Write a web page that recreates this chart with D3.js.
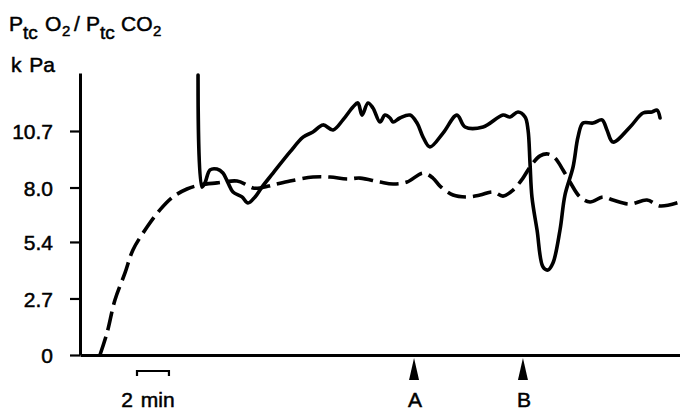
<!DOCTYPE html>
<html><head><meta charset="utf-8">
<script src="https://cdn.jsdelivr.net/npm/d3@7"></script>
<style>body{margin:0;background:#fff}svg{display:block}text{font-family:"Liberation Sans",Arial,sans-serif;fill:#000;stroke:#000;stroke-width:0.5px}</style>
</head><body>
<svg id="c" width="680" height="410"></svg>
<script>
// time in minutes, values in kPa
const tickValues = [0, 2.7, 5.4, 8.0, 10.7];
const tickLabels = ["0", "2.7", "5.4", "8.0", "10.7"];
const co2Time = [1.33,1.8,2.33,3.0,3.53,4.47,5.33,6.2,7.13,8.0,9.13,10.47,11.13,11.53,12.0,12.87,14.0,15.53,16.67,17.8,18.67,20.0,20.87,21.8,22.87,23.53,24.0,24.87,25.8,26.67,27.53,28.2,28.87,29.53,30.0,30.67,31.2,31.67,32.2,32.67,33.33,34.0,34.87,35.53,36.67,37.8,38.67,40.0];
const co2Value = [0,1.05,2.63,3.92,5.02,6.11,6.93,7.55,7.93,8.12,8.22,8.31,8.12,7.98,7.98,8.12,8.31,8.50,8.50,8.41,8.45,8.26,8.17,8.26,8.69,8.45,8.07,7.64,7.55,7.64,7.79,7.59,7.88,8.45,8.98,9.51,9.60,9.41,8.84,8.26,7.55,7.31,7.55,7.40,7.21,7.40,7.12,7.31];
const o2Time = [7.87,8.13,8.33,8.67,9.13,9.53,9.87,10.2,10.8,11.2,11.67,12.13,12.87,14.0,14.87,15.53,16.2,16.87,17.53,18.2,18.53,18.8,19.2,19.53,20.0,20.33,20.67,20.87,21.33,22.0,22.47,22.87,23.33,24.2,25.13,25.67,26.87,28.2,28.67,29.2,29.67,29.87,30.0,30.13,30.47,30.87,31.2,31.53,32.0,32.33,32.87,33.2,33.53,34.2,34.8,35.13,35.53,36.67,37.53,38.13,38.47,38.67];
const o2Value = [13.37,8.02,8.22,8.84,8.88,8.69,8.22,7.79,7.55,7.26,7.55,8.02,8.69,9.70,10.41,10.65,10.99,10.75,11.23,11.85,12.04,11.46,12.04,11.80,11.13,11.46,11.32,11.13,11.32,11.46,11.08,10.41,9.94,10.60,11.46,10.89,10.89,11.46,11.37,11.61,11.37,10.75,9.17,7.55,5.97,4.20,4.06,4.39,5.97,7.64,8.98,10.41,11.08,11.08,11.23,10.75,10.17,10.89,11.56,11.61,11.70,11.32];
const eventLabels = ["A", "B"];
const eventTimes = [22.27, 29.53];
const scaleBarTimes = [3.8, 5.93];
const scaleBarLabel = "2 min";

const svg = d3.select("#c");
const x = d3.scaleLinear().domain([0, 40]).range([80, 680]);
const y = d3.scaleLinear().domain([0, 13.47]).range([355, 73]);

// title (each part positioned separately)
const t = svg.append("text").attr("y", 31).attr("font-size", 21);
const parts = [["P", 9, 0, 21], ["tc", 23, 8, 19], ["O", 45, 0, 21], ["2", 62, 5, 15], ["/", 74, 0, 21],
               ["P", 86, 0, 21], ["tc", 100, 8, 19], ["CO", 121, 0, 21], ["2", 153, 5, 15]];
parts.forEach(p => t.append("tspan").attr("x", p[1]).attr("y", 31 + p[2]).attr("font-size", p[3]).text(p[0]));
svg.append("text").attr("x", 11).attr("y", 72).attr("font-size", 21).attr("word-spacing", 2).text("k Pa");

// axes
const ya = svg.append("g").attr("transform", "translate(80,0)")
  .call(d3.axisLeft(y).tickValues(tickValues).tickFormat((d, i) => tickLabels[i]).tickSize(10).tickSizeOuter(0).tickPadding(17));
ya.select(".domain").attr("stroke-width", 3);
ya.selectAll(".tick line").attr("stroke-width", 2.2);
ya.selectAll(".tick text").attr("font-size", 21).attr("font-family", "Liberation Sans, Arial, sans-serif").attr("fill", "#000").attr("dy", "0.36em");
const xa = svg.append("g").attr("transform", "translate(0,355)")
  .call(d3.axisBottom(x).tickValues([]).tickSizeOuter(0));
xa.select(".domain").attr("stroke-width", 3);

// lines
const line = d3.line().x(d => x(d[0])).y(d => y(d[1])).curve(d3.curveCatmullRom.alpha(0.5));
svg.append("path").datum(co2Time.map((d, i) => [d, co2Value[i]]))
  .attr("d", line).attr("fill", "none").attr("stroke", "#000").attr("stroke-width", 3.6)
  .attr("stroke-dasharray", "19,7");
svg.append("path").datum(o2Time.map((d, i) => [d, o2Value[i]]))
  .attr("d", line).attr("fill", "none").attr("stroke", "#000").attr("stroke-width", 3.6)
  .attr("stroke-linejoin", "round").attr("stroke-linecap", "round");

// event arrows
eventTimes.forEach((et, i) => {
  const cx = x(et);
  svg.append("path").attr("d", `M${cx},358 L${cx - 5},380 L${cx + 5},380 Z`).attr("fill", "#000");
  svg.append("text").attr("x", cx + 1).attr("y", 407).attr("text-anchor", "middle").attr("font-size", 21).text(eventLabels[i]);
});

// scale bar
const x0 = x(scaleBarTimes[0]), x1 = x(scaleBarTimes[1]);
svg.append("path").attr("d", `M${x0},376 V371 H${x1} V376`).attr("fill", "none").attr("stroke", "#000").attr("stroke-width", 2.2);
svg.append("text").attr("x", (x0 + x1) / 2 - 5).attr("y", 407).attr("text-anchor", "middle").attr("font-size", 21).attr("word-spacing", 2).text(scaleBarLabel);
</script>
</body></html>
